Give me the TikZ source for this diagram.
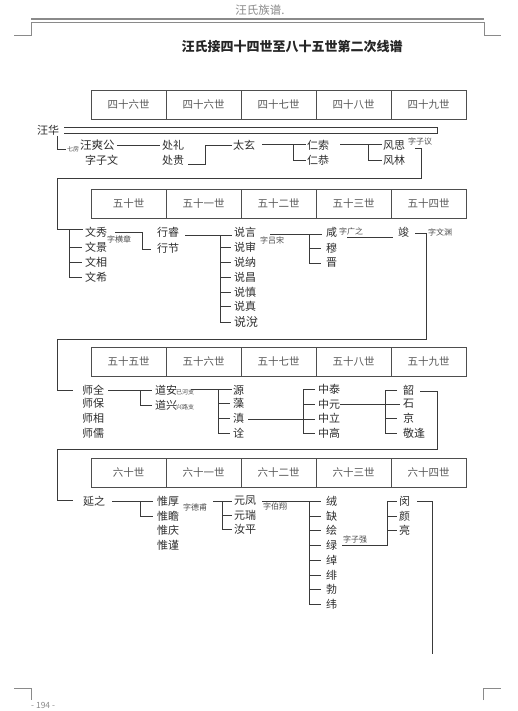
\documentclass[tikz,border=0pt]{standalone}
\usepackage{fontspec}
\newfontfamily\cjk{Noto Sans CJK SC}
\definecolor{lc}{HTML}{3A3A3A}
\definecolor{tc}{HTML}{2E2E2E}
\definecolor{gc}{HTML}{8A8A8A}
\begin{document}
\begin{tikzpicture}[x=1pt,y=-1pt,
 nm/.style={font=\cjk\fontsize{11}{11}\selectfont, text=tc, inner sep=0pt, anchor=west},
 sm/.style={font=\cjk\fontsize{8}{8}\selectfont, text=tc!85, inner sep=0pt, anchor=west},
 tn/.style={font=\cjk\fontsize{6}{6}\selectfont, text=tc!85, inner sep=0pt, anchor=west},
 cell/.style={draw=lc!90, line width=0.7pt, minimum width=75pt, minimum height=29pt, inner sep=0pt, font=\cjk\fontsize{10.5}{10.5}\selectfont, text=tc!80},
 ln/.style={draw=lc, line width=0.8pt},
 gl/.style={draw=gc, line width=0.6pt}]
\useasboundingbox (0,0) rectangle (518,711);
\fill[white] (0,0) rectangle (518,711);
% header
\node[font=\cjk\fontsize{11.5}{11.5}\selectfont, text=gc, inner sep=0pt] (hd) at (260,10) {汪氏族谱.};
\draw[gc, line width=2.5pt] (31,19) -- (484,19);
\draw[gl] (14,35) -- (31,35) -- (31,22.5) -- (484,22.5) -- (484,35) -- (501,35);
\node[font=\cjk\bfseries\fontsize{13}{13}\selectfont, text=black!85, inner sep=0pt] (tt) at (292,47) {汪氏接四十四世至八十五世第二次线谱};
% tables
\node[cell] (a1) at (128.5,104.5) {四十六世};
\node[cell] (a2) at (203.5,104.5) {四十六世};
\node[cell] (a3) at (278.5,104.5) {四十七世};
\node[cell] (a4) at (353.5,104.5) {四十八世};
\node[cell] (a5) at (428.5,104.5) {四十九世};
\node[cell] (b1) at (128.5,204) {五十世};
\node[cell] (b2) at (203.5,204) {五十一世};
\node[cell] (b3) at (278.5,204) {五十二世};
\node[cell] (b4) at (353.5,204) {五十三世};
\node[cell] (b5) at (428.5,204) {五十四世};
\node[cell] (c1) at (128.5,362) {五十五世};
\node[cell] (c2) at (203.5,362) {五十六世};
\node[cell] (c3) at (278.5,362) {五十七世};
\node[cell] (c4) at (353.5,362) {五十八世};
\node[cell] (c5) at (428.5,362) {五十九世};
\node[cell] (d1) at (128.5,472.5) {六十世};
\node[cell] (d2) at (203.5,472.5) {六十一世};
\node[cell] (d3) at (278.5,472.5) {六十二世};
\node[cell] (d4) at (353.5,472.5) {六十三世};
\node[cell] (d5) at (428.5,472.5) {六十四世};
% section 1
\node[nm] (wh) at (37,130) {汪华};
\node[tn] (qf) at (67,149) {七房};
\node[nm, font=\cjk\fontsize{11.5}{11.5}\selectfont] (ws) at (80,145.5) {汪爽公};
\node[nm] (zw) at (85,160) {字子文};
\node[nm] (cl) at (162,145.5) {处礼};
\node[nm] (cg) at (162,160) {处贵};
\node[nm] (tx) at (233,145.5) {太玄};
\node[nm] (rs) at (307,145.5) {仁索};
\node[nm] (rg) at (307,160) {仁恭};
\node[nm] (fs) at (383,145.5) {风思};
\node[nm] (fl) at (383,160) {风林};
\node[sm] (zzy) at (408,141) {字子议};
\draw[ln] ([xshift=5pt,yshift=3pt]wh.east) -- (437,127) -- (437,133) -- ([xshift=5pt,yshift=-3pt]wh.east);
\draw[ln] ([xshift=-2pt,yshift=-6pt]wh.east) |- ([xshift=-1pt]qf.west);
\draw[ln] ([xshift=2pt]ws.east) -- ([xshift=-2pt]cl.west);
\draw[ln] ([xshift=4pt,yshift=-4pt]cg.east) -- (205,164) -- (205,145.5) -- ([xshift=-1pt]tx.west);
\draw[ln] ([xshift=7pt,yshift=1pt]tx.east) -- ([xshift=-1pt,yshift=1pt]rs.west);
\draw[ln] (293,144.5) -- (293,160) -- ([xshift=-1pt]rg.west);
\draw[ln] ([xshift=11pt,yshift=1pt]rs.east) -- ([xshift=-1pt,yshift=1pt]fs.west);
\draw[ln] (368,144.5) -- (368,160) -- ([xshift=-1pt]fl.west);
% section 2
\node[nm] (wx) at (85,232) {文秀};
\node[sm] (zhz) at (107,239) {字横章};
\node[nm] (wj) at (85,247) {文景};
\node[nm] (wxg) at (85,262) {文相};
\node[nm] (wxi) at (85,277) {文希};
\node[nm] (xr) at (157,232) {行睿};
\node[nm] (xj) at (157,248) {行节};
\node[nm] (sy) at (234,232) {说言};
\node[nm] (ss) at (234,247) {说审};
\node[nm] (sn) at (234,262) {说纳};
\node[nm] (sc) at (234,277) {说昌};
\node[nm] (sz) at (234,292) {说慎};
\node[nm] (szh) at (234,306) {说真};
\node[nm, font=\cjk\fontsize{12}{12}\selectfont] (sx) at (234,322) {说涗};
\node[sm] (zls) at (260,240) {字吕宋};
\node[nm] (xn) at (326,232) {咸};
\node[nm] (mu) at (326,248) {穆};
\node[nm] (jin) at (326,263) {晋};
\node[sm] (zgz) at (339,231) {字广之};
\node[nm] (jun) at (398,232) {竣};
\node[sm] (zwy) at (428,232) {字文渊};
\draw[ln] ([xshift=10pt,yshift=-3pt]fs.east) -- (421,148.5) -- (421,178) -- (57,178) -- (57,229.5) -- ([xshift=-2pt,yshift=2.5pt]wx.west);
\draw[ln] (69.5,229.5) -- (69.5,277) -- ([xshift=-3pt]wxi.west);
\draw[ln] (69.5,247) -- ([xshift=-3pt]wj.west);
\draw[ln] (69.5,262) -- ([xshift=-3pt]wxg.west);
\draw[ln] ([xshift=8pt,yshift=-0.5pt]wx.east) -- (142,232.5) -- (142,249.5) -- ([xshift=-6pt,yshift=-1.5pt]xj.west);
\draw[ln] ([xshift=6pt,yshift=-3pt]xr.east) -- ([xshift=-2pt,yshift=-3pt]sy.west);
\draw[ln] (220,235) -- (220,322) -- ([xshift=-3pt]sx.west);
\draw[ln] (220,247) -- ([xshift=-3pt]ss.west);
\draw[ln] (220,262) -- ([xshift=-3pt]sn.west);
\draw[ln] (220,277) -- ([xshift=-3pt]sc.west);
\draw[ln] (220,292) -- ([xshift=-3pt]sz.west);
\draw[ln] (220,306) -- ([xshift=-3pt]szh.west);
\draw[ln] ([xshift=14pt,yshift=-2pt]sy.east) -- ([xshift=-4pt,yshift=-2pt]xn.west);
\draw[ln] (309,234) -- (309,263) -- ([xshift=-5pt]jin.west);
\draw[ln] (309,248) -- ([xshift=-5pt]mu.west);
\draw[ln] ([xshift=10pt,yshift=-5pt]xn.east) -- ([xshift=-5pt,yshift=-5pt]jun.west);
% section 3
\node[nm] (sq) at (82,390) {师全};
\node[nm] (sb) at (82,403) {师保};
\node[nm] (sxa) at (82,418) {师相};
\node[nm] (sr) at (82,433) {师儒};
\node[nm] (da) at (155,390) {道安};
\node[tn] (yhz) at (176,392) {已河支};
\node[nm] (dx) at (155,405) {道兴};
\node[tn] (xlz) at (176,407) {兴路支};
\node[nm] (yuan) at (233,390) {源};
\node[nm] (zao) at (233,403) {藻};
\node[nm] (dian) at (233,418) {滇};
\node[nm] (quan) at (233,433) {诠};
\node[nm] (zt) at (318,389) {中泰};
\node[nm] (zy) at (318,404) {中元};
\node[nm] (zl) at (318,418) {中立};
\node[nm] (zg) at (318,433) {中高};
\node[nm] (shao) at (403,390) {韶};
\node[nm] (shi) at (403,404) {石};
\node[nm] (jing) at (403,418) {京};
\node[nm] (jf) at (403,433) {敬逢};
\draw[ln] ([xshift=6pt,yshift=-1pt]jun.east) -- (426,233) -- (426,339) -- (57,339) -- (57,390) -- ([xshift=-9pt]sq.west);
\draw[ln] ([xshift=4pt]sq.east) -- ([xshift=-3pt]da.west);
\draw[ln] (140,390) -- (140,405) -- ([xshift=-3pt]dx.west);
\draw[ln] ([xshift=-3pt,yshift=3pt]yhz.east) -- ([xshift=-1pt,yshift=1pt]yuan.west);
\draw[ln] (218,389) -- (218,433) -- ([xshift=-3pt]quan.west);
\draw[ln] (218,403) -- ([xshift=-3pt]zao.west);
\draw[ln] (218,418) -- ([xshift=-3pt]dian.west);
\draw[ln] ([xshift=4pt,yshift=-1pt]dian.east) -- ([xshift=-3pt,yshift=-1pt]zl.west);
\draw[ln] ([xshift=-3pt]zt.west) -- (303,389) -- (303,433) -- ([xshift=-3pt]zg.west);
\draw[ln] (303,404) -- ([xshift=-3pt]zy.west);
\draw[ln] (zy.east) -- ([xshift=-3pt]shi.west);
\draw[ln] ([xshift=-6pt]shao.west) -- (385,390) -- (385,433) -- ([xshift=-6pt]jf.west);
\draw[ln] (385,418) -- ([xshift=-6pt]jing.west);
% section 4
\node[nm] (yz) at (83,501) {延之};
\node[nm] (wh1) at (157,501) {惟厚};
\node[sm] (zdf) at (183,507) {字德甫};
\node[nm] (wz) at (157,516) {惟瞻};
\node[nm] (wq) at (157,530) {惟庆};
\node[nm] (wjn) at (157,545) {惟谨};
\node[nm] (yf) at (234,501) {元凤};
\node[nm] (yr) at (234,515) {元瑞};
\node[nm] (rp) at (234,529) {汝平};
\node[sm] (zbx) at (263,506) {字伯翔};
\node[nm] (rong) at (326,501) {绒};
\node[nm] (que) at (326,516) {缺};
\node[nm] (hui) at (326,530) {绘};
\node[nm] (lv) at (326,545) {绿};
\node[nm] (chuo) at (326,560) {绰};
\node[nm] (fei) at (326,575) {绯};
\node[nm] (bo) at (326,589) {勃};
\node[nm] (wei) at (326,604) {纬};
\node[sm] (zzq) at (343,539) {字子强};
\node[nm] (min) at (399,501) {闵};
\node[nm] (yan) at (399,516) {颜};
\node[nm] (liang) at (399,530) {亮};
\draw[ln] ([xshift=6pt,yshift=-1pt]shao.east) -- (437,391) -- (437,449) -- (57,449) -- (57,500) -- ([xshift=-10pt,yshift=1pt]yz.west);
\draw[ln] ([xshift=7pt]yz.east) -- ([xshift=-4pt]wh1.west);
\draw[ln] (140,501) -- (140,516) -- ([xshift=-4pt]wz.west);
\draw[ln] ([xshift=6pt,yshift=6pt]zdf.east) -- ([xshift=-2pt]yf.west);
\draw[ln] (222,501) -- (222,529) -- ([xshift=-2pt]rp.west);
\draw[ln] (222,515) -- ([xshift=-2pt]yr.west);
\draw[ln] ([xshift=6pt]yf.east) -- ([xshift=-5pt]rong.west);
\draw[ln] (309,501) -- (309,604) -- ([xshift=-5pt]wei.west);
\draw[ln] (309,516) -- ([xshift=-5pt]que.west);
\draw[ln] (309,530) -- ([xshift=-5pt]hui.west);
\draw[ln] (309,545) -- ([xshift=-5pt]lv.west);
\draw[ln] (309,560) -- ([xshift=-5pt]chuo.west);
\draw[ln] (309,575) -- ([xshift=-5pt]fei.west);
\draw[ln] (309,589) -- ([xshift=-5pt]bo.west);
\draw[ln] ([xshift=5pt]lv.east) -- (387,545) -- (387,501) -- ([xshift=-2pt]min.west);
\draw[ln] (387,516) -- ([xshift=-2pt]yan.west);
\draw[ln] (387,530) -- ([xshift=-2pt]liang.west);
\coordinate (endp) at (432,654);
\draw[ln] ([xshift=7pt]min.east) -- (432,501) -- (endp);
% footer
\draw[gl] (14,688) -- (31,688) -- (31,700);
\draw[gl] (483,700) -- (483,688) -- (501,688);
\node[font=\cjk\fontsize{8.5}{8.5}\selectfont, text=gc, inner sep=0pt, anchor=west] (pg) at (31,705) {- 194 -};
\end{tikzpicture}
\end{document}
